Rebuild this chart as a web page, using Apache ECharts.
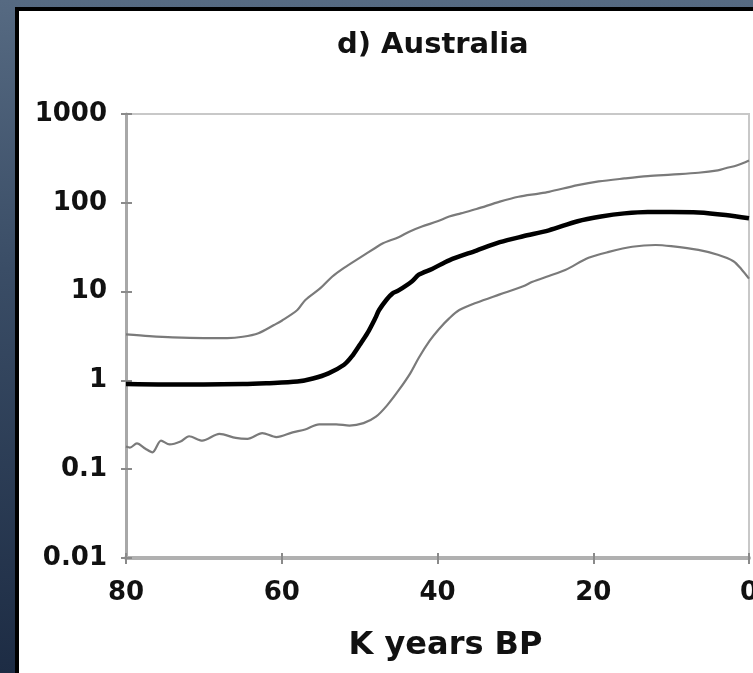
<!DOCTYPE html>
<html>
<head>
<meta charset="utf-8">
<script src="https://cdn.jsdelivr.net/npm/echarts@6/dist/echarts.min.js"></script>
<style>
  html, body { margin: 0; padding: 0; width: 753px; height: 673px; overflow: hidden; }
  body { background: linear-gradient(to bottom, #566a82 0%, #3a4d66 40%, #1d2c44 100%); position: relative; }
  #panel { position: absolute; left: 15px; top: 7px; width: 760px; height: 700px; background: #ffffff; border-left: 4px solid #000; border-top: 4px solid #000; box-sizing: border-box; }
  #chart { position: absolute; left: 0; top: 0; width: 753px; height: 673px; }
</style>
</head>
<body>
<div id="panel"></div>
<div id="chart"></div>
<script>
const titleText = 'd) Australia';
const xAxisName = 'K years BP';
const xTicks = [80, 60, 40, 20, 0];
const yTicks = [0.01, 0.1, 1, 10, 100, 1000];

const upperYears  = [80, 77, 74, 70, 67, 65, 63, 61, 60, 58, 57, 55, 53.5, 52, 50, 48, 47, 45, 43.7, 42, 40, 38.5, 37, 35, 32, 29.6, 27, 25.7, 22, 19.3, 16, 13, 10, 6.5, 4, 3, 1.5, 0];
const upperValues = [3.3, 3.15, 3.05, 3.0, 3.0, 3.1, 3.4, 4.2, 4.7, 6.2, 8.0, 11, 14.8, 18.5, 24, 31, 35, 41, 47, 54, 62, 70, 76, 85, 103, 117, 127, 133, 158, 174, 188, 200, 208, 218, 232, 245, 265, 300];

const medianYears  = [80, 75, 70, 65, 62, 58, 56, 54, 52, 51, 50, 49, 48, 47.5, 46.5, 45.8, 45, 43.3, 42.4, 40.7, 38.5, 35, 32, 29, 25.7, 22, 19, 16, 13, 10, 6.5, 3, 0];
const medianValues = [0.91, 0.9, 0.9, 0.91, 0.93, 0.97, 1.05, 1.2, 1.5, 1.86, 2.5, 3.4, 5.0, 6.2, 8.2, 9.5, 10.3, 13, 15.5, 18, 22.5, 29, 36, 42, 49, 62, 70, 76, 79, 79, 78, 73, 67];

const lowerYears  = [80, 79.5, 78.6, 77.5, 76.6, 75.5, 74.4, 73, 71.9, 70.2, 68, 65.9, 64.4, 62.5, 60.7, 58.6, 57, 55.2, 53, 51.3, 49.5, 47.9, 46.5, 45, 43.5, 42.4, 41, 39.8, 38.5, 37.2, 35, 32, 29, 27.8, 25.7, 23.6, 20.6, 18, 15, 12, 10, 6.5, 4, 2, 1, 0];
const lowerValues = [0.18, 0.175, 0.195, 0.17, 0.155, 0.21, 0.19, 0.205, 0.235, 0.21, 0.25, 0.225, 0.22, 0.255, 0.23, 0.26, 0.28, 0.32, 0.32, 0.31, 0.33, 0.39, 0.52, 0.77, 1.2, 1.8, 2.8, 3.8, 5.0, 6.2, 7.5, 9.3, 11.5, 12.9, 15, 17.5, 24, 28, 32, 33.5, 32.5, 29.5, 26, 22, 18, 14];

function pairs(xs, ys) { return xs.map((x, i) => [x, ys[i]]); }

const FONT = 'DejaVu Sans';
const chart = echarts.init(document.getElementById('chart'), null, { renderer: 'canvas' });

const labelFmt = v => {
  const r = yTicks.find(t => Math.abs(Math.log10(t) - Math.log10(v)) < 1e-6);
  return r === undefined ? '' : String(r);
};

const gridBox = { left: 126, right: 4, top: 114, bottom: 115, outerBoundsMode: 'none', containLabel: false };
const tickStyle = { color: '#8a8a8a', width: 2 };

chart.setOption({
  backgroundColor: 'transparent',
  animation: false,
  title: {
    text: titleText,
    left: 332, top: 26,
    textStyle: { fontFamily: FONT, fontWeight: 'bold', fontSize: 29, color: '#111' }
  },
  grid: [
    Object.assign({ show: true, borderColor: '#c8c8c8', borderWidth: 2, backgroundColor: 'transparent' }, gridBox),
    Object.assign({ show: false }, gridBox)
  ],
  xAxis: [{
    gridIndex: 0, type: 'value', min: 0, max: 80, interval: 20, inverse: true, position: 'bottom',
    name: xAxisName, nameLocation: 'middle', nameGap: 72,
    nameTextStyle: { fontFamily: FONT, fontWeight: 'bold', fontSize: 32, color: '#111', padding: [0, 0, 0, 16] },
    axisLine: { show: true, onZero: false, lineStyle: { color: '#b0b0b0', width: 4 } },
    axisTick: { show: true, length: 6, lineStyle: tickStyle },
    axisLabel: { margin: 22, fontFamily: FONT, fontWeight: 'bold', fontSize: 26, color: '#111' },
    splitLine: { show: false }
  }, {
    gridIndex: 1, type: 'value', min: 0, max: 80, interval: 20, inverse: true, position: 'bottom',
    axisLine: { show: false, onZero: false },
    axisTick: { show: true, inside: true, length: 5, lineStyle: tickStyle },
    axisLabel: { show: false }, splitLine: { show: false }
  }],
  yAxis: [{
    gridIndex: 0, type: 'log', logBase: 10, min: 0.01, max: 1000, position: 'left',
    axisLine: { show: true, onZero: false, lineStyle: { color: '#a8a8a8', width: 3 } },
    axisTick: { show: true, length: 5, lineStyle: tickStyle },
    axisLabel: { margin: 19, fontFamily: FONT, fontWeight: 'bold', fontSize: 26, color: '#111', formatter: labelFmt },
    splitLine: { show: false }, minorTick: { show: false }
  }, {
    gridIndex: 1, type: 'log', logBase: 10, min: 0.01, max: 1000, position: 'left',
    axisLine: { show: false, onZero: false },
    axisTick: { show: true, inside: true, length: 6, lineStyle: tickStyle },
    axisLabel: { show: false }, splitLine: { show: false }
  }],
  series: [
    { name: 'upper', type: 'line', xAxisIndex: 0, yAxisIndex: 0, data: pairs(upperYears, upperValues), smooth: 0.3, showSymbol: false,
      lineStyle: { color: '#7a7a7a', width: 2.2 }, z: 3 },
    { name: 'lower', type: 'line', xAxisIndex: 0, yAxisIndex: 0, data: pairs(lowerYears, lowerValues), smooth: 0.3, showSymbol: false,
      lineStyle: { color: '#7a7a7a', width: 2.2 }, z: 3 },
    { name: 'median', type: 'line', xAxisIndex: 0, yAxisIndex: 0, data: pairs(medianYears, medianValues), smooth: 0.3, showSymbol: false,
      lineStyle: { color: '#000', width: 4.5 }, z: 4 }
  ]
});
</script>
</body>
</html>
